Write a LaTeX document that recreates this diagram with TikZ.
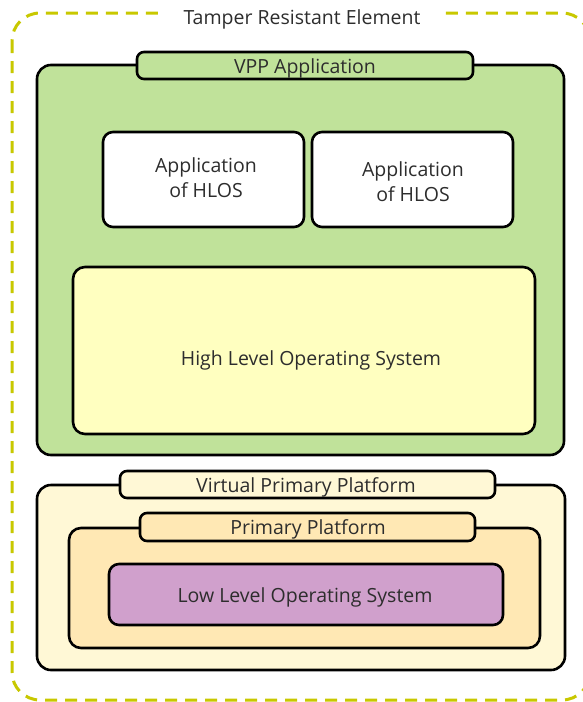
\documentclass[tikz,border=0pt]{standalone}
\usepackage{fontspec}
\setmainfont{Open Sans}
\definecolor{dashyellow}{RGB}{200,200,0}
\definecolor{vppgreen}{RGB}{192,226,154}
\definecolor{hlosyellow}{RGB}{255,255,192}
\definecolor{vpplight}{RGB}{255,248,214}
\definecolor{ppcream}{RGB}{255,232,180}
\definecolor{llospurple}{RGB}{208,160,204}
\definecolor{txt}{RGB}{45,45,45}
\tikzset{
  layer/.style={draw=black, line width=2.6pt, rounded corners=14pt},
  tab/.style={draw=black, line width=2.6pt, rounded corners=7pt},
  lbl/.style={text=txt, font=\fontsize{19.5}{25}\selectfont, align=center, inner sep=0pt}
}
\begin{document}
\begin{tikzpicture}[x=1pt,y=-1pt]
\useasboundingbox (0,0) rectangle (583,702);
% tamper resistant boundary
\draw[dashyellow, line width=3pt, dash pattern=on 12pt off 8pt, rounded corners=28pt]
  (12,13) rectangle (590,700);
\node[lbl, fill=white, inner xsep=22pt, inner ysep=5pt] (tre) at (302,19.5) {Tamper Resistant Element};

% VPP application layer
\draw[layer, fill=vppgreen] (37,65) rectangle (564,455);
\draw[tab, fill=vppgreen] (137,52) rectangle (473,79);
\node[lbl] (vppapp) at (305,68.5) {VPP Application};

\draw[layer, rounded corners=10pt, fill=white] (103,132) rectangle (304,227);
\node[lbl] (app1) at (206,177.5) {Application\\of HLOS};
\draw[layer, rounded corners=10pt, fill=white] (312,132) rectangle (513,227);
\node[lbl] (app2) at (413,181.5) {Application\\of HLOS};

\draw[layer, rounded corners=12pt, fill=hlosyellow] (73,267) rectangle (535,434);
\node[lbl] (hlos) at (311,360) {High Level Operating System};

% virtual primary platform
\draw[layer, fill=vpplight] (37,485) rectangle (565,670);
\draw[tab, fill=vpplight] (120,471) rectangle (495,498);
\node[lbl] (vpp) at (306,487.5) {Virtual Primary Platform};

% primary platform
\draw[layer, rounded corners=12pt, fill=ppcream] (69,528) rectangle (540,648);
\draw[tab, fill=ppcream] (140,513) rectangle (475,541);
\node[lbl] (pp) at (308,529.5) {Primary Platform};

\draw[layer, rounded corners=10pt, fill=llospurple] (109,564) rectangle (503,625);
\node[lbl] (llos) at (305,597.5) {Low Level Operating System};
\end{tikzpicture}
\end{document}
